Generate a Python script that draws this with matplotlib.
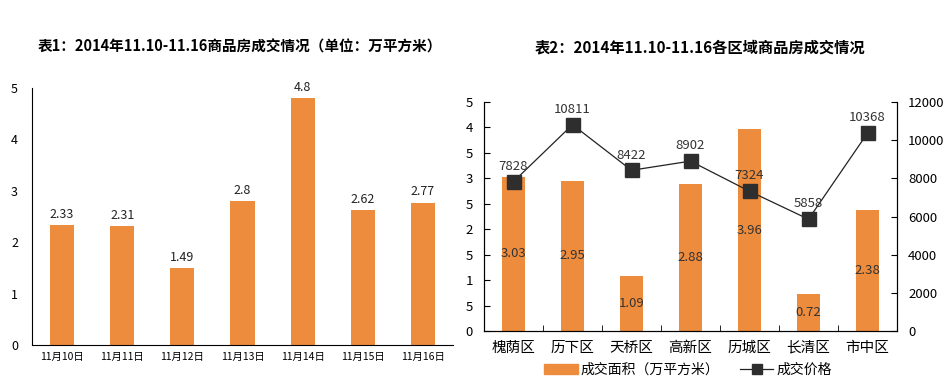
import matplotlib.pyplot as plt
import numpy as np
from matplotlib.lines import Line2D
from matplotlib.patches import Patch

plt.rcParams['font.family'] = ['Noto Sans CJK SC', 'DejaVu Sans']

# chart 1: weekly totals
days = ["11月10日", "11月11日", "11月12日", "11月13日", "11月14日", "11月15日", "11月16日"]
day_area = [2.33, 2.31, 1.49, 2.8, 4.8, 2.62, 2.77]

# chart 2: by district
districts = ["槐荫区", "历下区", "天桥区", "高新区", "历城区", "长清区", "市中区"]
dist_area = [3.03, 2.95, 1.09, 2.88, 3.96, 0.72, 2.38]
dist_price = [7828, 10811, 8422, 8902, 7324, 5858, 10368]
area_ticks = [0, 0.5, 1, 1.5, 2, 2.5, 3, 3.5, 4, 4.5]
area_tick_labels = ["0", "5", "1", "5", "2", "5", "3", "5", "4", "5"]
price_ticks = [0, 2000, 4000, 6000, 8000, 10000, 12000]

ORANGE = "#EE8C3E"
DARK = "#2E2E2E"
W, H = 949, 383


def px_axes(fig, x0, y_top, x1, y_bot):
    return fig.add_axes([x0 / W, 1 - y_bot / H, (x1 - x0) / W, (y_bot - y_top) / H])


fig = plt.figure(figsize=(W / 100, H / 100), dpi=100)

# ---- left chart
ax1 = px_axes(fig, 32, 88, 453, 345)
x = np.arange(len(days))
ax1.bar(x, day_area, width=0.4, color=ORANGE)
for xi, v in zip(x, day_area):
    ax1.annotate(f"{v:g}", (xi, v), xytext=(0, 3), textcoords="offset points",
                 ha="center", va="bottom", fontsize=9, color="#222222")
ax1.set_xlim(-0.5, len(days) - 0.5)
ax1.set_ylim(0, 5)
ax1.set_yticks(range(6))
ax1.set_xticks(x)
ax1.set_xticklabels(days)
ax1.tick_params(axis="y", length=0, labelsize=9, pad=10)
ax1.tick_params(axis="x", length=0, pad=5, labelsize=7.5)
for s in ("top", "right"):
    ax1.spines[s].set_visible(False)
fig.text(240 / W, 1 - 47 / H, "表1：2014年11.10-11.16商品房成交情况（单位：万平方米）",
         ha="center", va="center", fontsize=10.5, fontweight="bold")

# ---- right chart
ax2 = px_axes(fig, 484, 102, 897, 331)
x2 = np.arange(len(districts))
ax2.bar(x2, dist_area, width=0.38, color=ORANGE)
for xi, v in zip(x2, dist_area):
    ax2.text(xi, v / 2, f"{v:.2f}", ha="center", va="center", fontsize=9.5, color="#333333")
ax2.set_xlim(-0.5, len(districts) - 0.5)
ax2.set_ylim(0, 4.5)
ax2.set_yticks(area_ticks)
ax2.set_yticklabels(area_tick_labels)
ax2.set_xticks(x2)
ax2.set_xticklabels(districts, fontsize=10.5)
ax2.set_xticks(np.arange(0.5, len(districts) - 1, 1), minor=True)
ax2.tick_params(axis="x", which="major", length=0, pad=7)
ax2.tick_params(axis="x", which="minor", direction="in", length=4)
ax2.tick_params(axis="y", direction="in", length=4, labelsize=9.5, pad=8)
ax2.spines["top"].set_visible(False)

ax3 = ax2.twinx()
ax3.plot(x2, dist_price, color="#222222", lw=0.9, marker="s", ms=10,
         mfc=DARK, mec=DARK)
for xi, v in zip(x2, dist_price):
    ax3.annotate(f"{v}", (xi, v), xytext=(0, 11), textcoords="offset points",
                 ha="center", va="center", fontsize=9.5, color="#333333")
ax3.set_ylim(0, 12000)
ax3.set_yticks(price_ticks)
ax3.tick_params(axis="y", direction="in", length=4, labelsize=9.5, pad=8)
ax3.spines["top"].set_visible(False)

handles = [Patch(color=ORANGE, label="成交面积（万平方米）"),
           Line2D([0], [0], color="#222222", lw=0.9, marker="s", ms=7,
                  mfc=DARK, mec=DARK, label="成交价格")]
fig.legend(handles=handles, loc="center", bbox_to_anchor=(688 / W, 1 - 370 / H),
           ncol=2, frameon=False, fontsize=10, handlelength=2.4,
           handletextpad=0.2, columnspacing=1.5)
fig.text(700 / W, 1 - 47 / H, "表2：2014年11.10-11.16各区域商品房成交情况",
         ha="center", va="center", fontsize=11, fontweight="bold")

fig.savefig("out.png", dpi=100)
